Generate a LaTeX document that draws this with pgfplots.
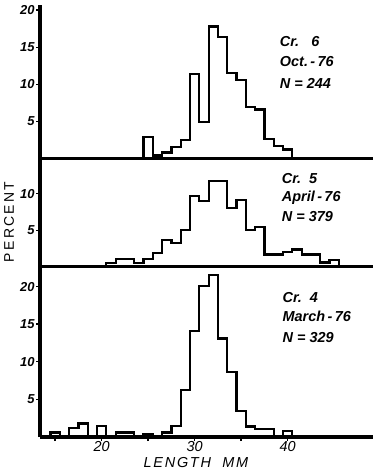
\documentclass[border=0pt]{standalone}
\usepackage{pgfplots}
\pgfplotsset{compat=1.18}
\usepackage{fontspec}
\setmainfont{Liberation Sans}
\newfontfamily\spacedfont[LetterSpace=12]{Liberation Sans}
\newfontfamily\spacedfontb[LetterSpace=16]{Liberation Sans}

\pgfplotsset{
  panel/.style={
    scale only axis, width=333bp,
    xmin=13.37, xmax=49.17, ymin=0,
    axis x line=bottom, axis y line=left,
    axis line style={-, line width=3bp},
    tick align=outside, major tick length=4bp,
    tick style={line width=1.4bp, black},
    /pgf/number format/assume math mode=true,
    yticklabel style={font=\fontsize{13}{13}\selectfont\bfseries\itshape, inner sep=1.2bp},
    xticklabel style={font=\fontsize{14.5}{14.5}\selectfont\itshape, inner sep=0.5bp},
    clip=false,
  },
  hist/.style={const plot mark left, no marks, black, line width=2.2bp, line join=miter},
}
\tikzset{info/.style={anchor=west, font=\fontsize{14.5}{14.5}\selectfont\bfseries\itshape, inner sep=0pt}}

\begin{document}
\begin{tikzpicture}
\useasboundingbox (0bp,0bp) rectangle (376bp,472bp);

% Top panel: Cr. 6, Oct-76
\begin{axis}[panel, at={(40bp,313.5bp)}, anchor=south west, height=153.5bp,
  ymax=20.7, ytick={5,10,15,20}, xtick=\empty]
\addplot[hist] coordinates {
 (24.5,0) (24.5,2.9) (25.5,0.4) (26.5,0.8) (27.5,1.6) (28.5,2.5) (29.5,11.4)
 (30.5,4.9) (31.5,17.8) (32.5,16.4) (33.5,11.5) (34.5,10.6) (35.5,6.9)
 (36.5,6.6) (37.5,2.6) (38.5,1.7) (39.5,1.2) (40.5,0)};
\node[info] at (rel axis cs:0.72,0.765) {Cr.\ \ \ 6};
\node[info] at (rel axis cs:0.72,0.63) {Oct.\,-\,76};
\node[info] at (rel axis cs:0.72,0.49) {N = 244};
\end{axis}

% Middle panel: Cr. 5, April-76
\begin{axis}[panel, at={(40bp,205bp)}, anchor=south west, height=108.5bp,
  ymax=14.8, ytick={5,10}, xtick=\empty]
\addplot[hist] coordinates {
 (20.5,0) (20.5,0.53) (21.5,1.06) (23.5,0.53) (24.5,1.06) (25.5,1.9) (26.5,3.7)
 (27.5,3.3) (28.5,5.1) (29.5,9.7) (30.5,9.0) (31.5,11.75) (33.5,8.1) (34.5,9.1)
 (35.5,5.0) (36.5,5.5) (37.5,1.7) (39.5,2.0) (40.5,2.4) (41.5,1.7) (43.5,0.6)
 (44.5,1.0) (45.5,0)};
\node[info] at (rel axis cs:0.726,0.811) {Cr.\ \ 5};
\node[info] at (rel axis cs:0.726,0.636) {April\,-\,76};
\node[info] at (rel axis cs:0.726,0.464) {N = 379};
\end{axis}

% Bottom panel: Cr. 4, March-76
\begin{axis}[panel, at={(40bp,35bp)}, anchor=south west, height=170bp,
  ymax=22.6, ytick={5,10,15,20},
  xtick={15,20,25,30,35,40}, xticklabels={,20,,30,,40}]
\addplot[hist] coordinates {
 (14.5,0) (14.5,0.6) (15.5,0) (16.5,1.2) (17.5,1.8) (18.5,0) (19.5,1.5) (20.5,0)
 (21.5,0.6) (23.5,0) (24.5,0.4) (25.5,0) (26.5,0.6) (27.5,1.5) (28.5,6.2)
 (29.5,14.1) (30.5,20.1) (31.5,21.5) (32.5,13.1) (33.5,8.6) (34.5,3.5)
 (35.5,1.4) (36.5,1.1) (38.5,0) (39.5,0.8) (40.5,0)};
\node[info] at (rel axis cs:0.728,0.82) {Cr.\ \ 4};
\node[info] at (rel axis cs:0.728,0.708) {March\,-\,76};
\node[info] at (rel axis cs:0.728,0.585) {N = 329};
\end{axis}

\node[font=\spacedfont\fontsize{14.5}{14.5}\selectfont\itshape, inner sep=0pt] at (196bp,9bp) {LENGTH\ \ MM};
\node[rotate=90, font=\spacedfontb\fontsize{14}{14}\selectfont] at (9bp,250bp) {PERCENT};
\end{tikzpicture}
\end{document}
